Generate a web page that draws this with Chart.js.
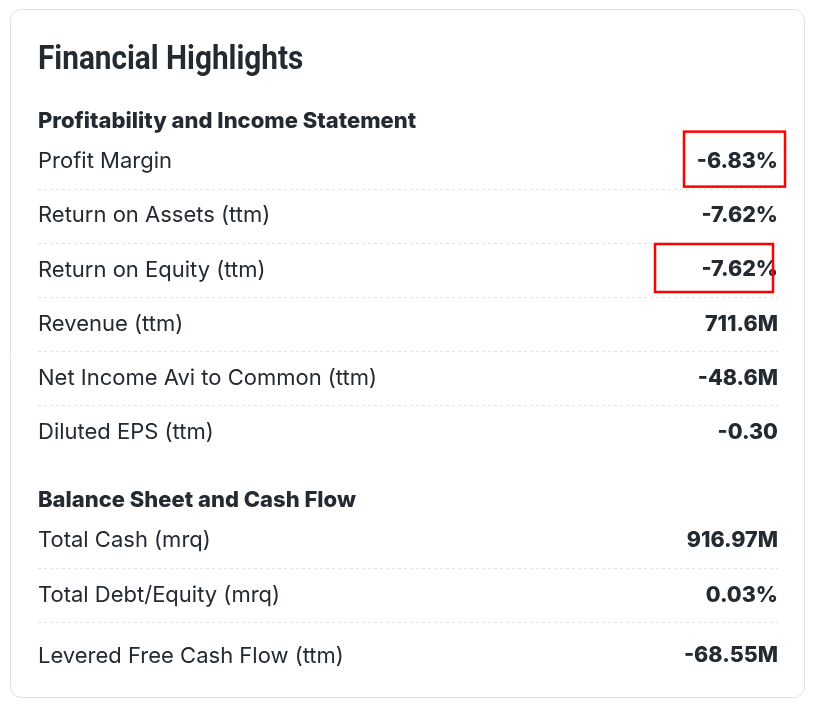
<!DOCTYPE html>
<html>
<head>
<meta charset="utf-8">
<script src="https://cdn.jsdelivr.net/npm/chart.js@4/dist/chart.umd.min.js"></script>
<style>
  html, body { margin: 0; padding: 0; background: #ffffff; }
  #wrap { width: 819px; height: 709px; position: relative; }
</style>
</head>
<body>
<div id="wrap"><canvas id="highlights"></canvas></div>
<script>
// card content
const cardTitle = "Financial Highlights";
const sectionNames = ["Profitability and Income Statement", "Balance Sheet and Cash Flow"];
const metricLabels = [
  "Profit Margin",
  "Return on Assets (ttm)",
  "Return on Equity (ttm)",
  "Revenue (ttm)",
  "Net Income Avi to Common (ttm)",
  "Diluted EPS (ttm)",
  "Total Cash (mrq)",
  "Total Debt/Equity (mrq)",
  "Levered Free Cash Flow (ttm)"
];
const metricValues = ["-6.83%", "-7.62%", "-7.62%", "711.6M", "-48.6M", "-0.30", "916.97M", "0.03%", "-68.55M"];
const metricSection = [0, 0, 0, 0, 0, 0, 1, 1, 1];
const markedMetrics = ["Profit Margin", "Return on Equity (ttm)"];

var textColor = "#232a31";
var bodyFont = "Inter, Roboto, sans-serif";

// vertical rhythm, in half-steps of the category axis
var HEAD_TO_ROW = 6, ROW_TO_ROW = 8, ROW_TO_HEAD = 10, LAST_ROW = 9;

// build the slot lists for the left (labels) and right (values) axes
var leftSlots = [], rightSlots = [], slotKind = [], rowSlot = {};
function pushSlot(l, r, kind) { leftSlots.push(l); rightSlots.push(r); slotKind.push(kind); }
function pad(n) { for (var k = 0; k < n; k++) pushSlot(null, null, "gap"); }

sectionNames.forEach(function(name, s) {
  if (s > 0) pad(ROW_TO_HEAD - 1);
  pushSlot(name, null, "head");
  var idx = [];
  metricSection.forEach(function(sec, i) { if (sec === s) idx.push(i); });
  idx.forEach(function(i, j) {
    var isLastOverall = (s === sectionNames.length - 1 && j === idx.length - 1);
    pad(j === 0 ? HEAD_TO_ROW - 1 : (isLastOverall ? LAST_ROW - 1 : ROW_TO_ROW - 1));
    rowSlot[metricLabels[i]] = leftSlots.length;
    pushSlot(metricLabels[i], metricValues[i], j < idx.length - 1 ? "row" : "rowEnd");
  });
});

function labelFont(c) {
  var lbl = c.tick ? c.tick.label : null;
  if (sectionNames.indexOf(lbl) >= 0) return { family: bodyFont, size: 22, weight: "800" };
  return { family: bodyFont, size: 22, weight: "normal" };
}

function noEdgePadding(scale) {
  scale.paddingTop = 0;
  scale.paddingBottom = 0;
}

var cardPlugin = {
  id: "card",
  beforeDraw: function(chart) {
    var ctx = chart.ctx;
    ctx.save();
    ctx.fillStyle = "#ffffff";
    ctx.fillRect(0, 0, chart.width, chart.height);
    ctx.beginPath();
    ctx.roundRect(10.5, 9.5, 794, 688, 11);
    ctx.strokeStyle = "#dfe2e6";
    ctx.lineWidth = 1;
    ctx.stroke();
    // condensed bold heading
    ctx.fillStyle = textColor;
    ctx.font = "bold 34px Roboto, sans-serif";
    ctx.textBaseline = "alphabetic";
    ctx.translate(chart.chartArea.left, 69);
    ctx.scale(0.875, 1);
    ctx.fillText(cardTitle, 0, 0);
    ctx.restore();
  },
  afterDraw: function(chart) {
    var ctx = chart.ctx;
    var y = chart.scales.y;
    var half = (y.getPixelForValue(1) - y.getPixelForValue(0));
    var x0 = chart.chartArea.left, x1 = chart.chartArea.right;
    ctx.save();
    // dashed separators under every row but the last of a section
    ctx.strokeStyle = "#e0e3e7";
    ctx.lineWidth = 1;
    ctx.setLineDash([3, 3]);
    slotKind.forEach(function(k, i) {
      if (k !== "row") return;
      var py = Math.round(y.getPixelForValue(i) + half * 4) + 0.5;
      ctx.beginPath();
      ctx.moveTo(x0, py);
      ctx.lineTo(x1, py);
      ctx.stroke();
    });
    // red marker boxes
    ctx.setLineDash([]);
    ctx.strokeStyle = "#ff0000";
    ctx.lineWidth = 2.5;
    var boxes = [[-94, 7, -30, 25], [-123, -5, -26, 22]];
    markedMetrics.forEach(function(name, b) {
      var cy = y.getPixelForValue(rowSlot[name]);
      var bx = boxes[b];
      ctx.strokeRect(x1 + bx[0], cy + bx[2], bx[1] - bx[0], bx[3] - bx[2]);
    });
    ctx.restore();
  }
};

var chart = new Chart(document.getElementById("highlights"), {
  type: "bar",
  data: { labels: leftSlots, datasets: [] },
  options: {
    indexAxis: "y",
    responsive: true,
    maintainAspectRatio: false,
    animation: false,
    layout: { padding: { left: 38, right: 41, top: 121, bottom: 53 } },
    plugins: {
      legend: { display: false },
      tooltip: { enabled: false },
      title: { display: false }
    },
    scales: {
      x: { display: false },
      y: {
        type: "category",
        offset: false,
        afterFit: noEdgePadding,
        grid: { display: false, drawTicks: false },
        border: { display: false },
        ticks: {
          autoSkip: false,
          mirror: true,
          padding: 0,
          color: textColor,
          font: labelFont
        }
      },
      y2: {
        type: "category",
        labels: rightSlots,
        position: "right",
        offset: false,
        afterFit: noEdgePadding,
        grid: { display: false, drawTicks: false },
        border: { display: false },
        ticks: {
          autoSkip: false,
          mirror: true,
          padding: 0,
          color: textColor,
          font: { family: bodyFont, size: 21.5, weight: "800" }
        }
      }
    }
  },
  plugins: [cardPlugin]
});
</script>
</body>
</html>
